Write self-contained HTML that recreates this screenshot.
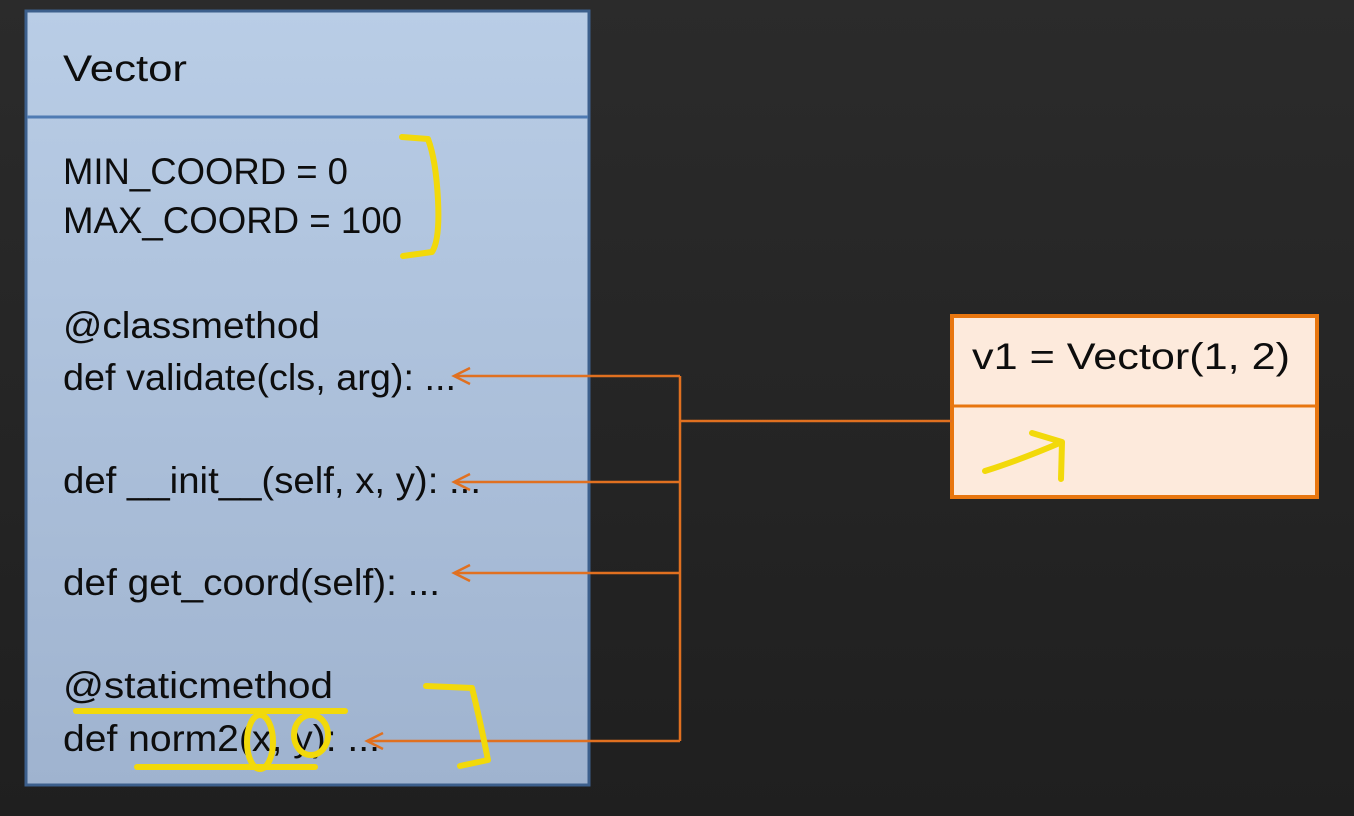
<!DOCTYPE html>
<html><head><meta charset="utf-8"><style>
html,body{margin:0;padding:0;background:#262626;}
svg{display:block}
text{font-family:"Liberation Sans",sans-serif;fill:#0d0d0d;}
</style></head><body>
<svg width="1354" height="816" viewBox="0 0 1354 816" xmlns="http://www.w3.org/2000/svg">
<defs>
<linearGradient id="bg" x1="0" y1="0" x2="0" y2="1">
<stop offset="0" stop-color="#2b2b2b"/><stop offset="1" stop-color="#1f1f1f"/></linearGradient>
<linearGradient id="bl" x1="0" y1="0" x2="0" y2="1">
<stop offset="0" stop-color="#b9cde6"/><stop offset="1" stop-color="#9fb3cf"/></linearGradient>
</defs>
<rect width="1354" height="816" fill="url(#bg)"/>
<rect x="26" y="11" width="563" height="774" fill="url(#bl)" stroke="#3c5f8c" stroke-width="3"/>
<line x1="27" y1="117" x2="588" y2="117" stroke="#4f7bb3" stroke-width="3"/>
<g font-size="37" lengthAdjust="spacingAndGlyphs">
<text x="63" y="81" textLength="124" lengthAdjust="spacingAndGlyphs">Vector</text>
<text x="63" y="184" textLength="285" lengthAdjust="spacingAndGlyphs">MIN_COORD = 0</text>
<text x="63" y="233" textLength="339" lengthAdjust="spacingAndGlyphs">MAX_COORD = 100</text>
<text x="63" y="338" textLength="257" lengthAdjust="spacingAndGlyphs">@classmethod</text>
<text x="63" y="390" textLength="393" lengthAdjust="spacingAndGlyphs">def validate(cls, arg): ...</text>
<text x="63" y="493" textLength="418" lengthAdjust="spacingAndGlyphs">def __init__(self, x, y): ...</text>
<text x="63" y="595" textLength="377" lengthAdjust="spacingAndGlyphs">def get_coord(self): ...</text>
<text x="63" y="698" textLength="270" lengthAdjust="spacingAndGlyphs">@staticmethod</text>
<text x="63" y="751" textLength="317" lengthAdjust="spacingAndGlyphs">def norm2(x, y): ...</text>
</g>
<rect x="952" y="316" width="365" height="181" fill="#fdeadc" stroke="#e8760f" stroke-width="4"/>
<line x1="952" y1="406" x2="1317" y2="406" stroke="#e8760f" stroke-width="3"/>
<text x="972" y="369" font-size="37" textLength="318" lengthAdjust="spacingAndGlyphs">v1 = Vector(1, 2)</text>
<g stroke="#e07020" stroke-width="2.5" fill="none">
<polyline points="680,376 680,741"/>
<line x1="680" y1="421" x2="952" y2="421"/>
<line x1="454" y1="376" x2="680" y2="376"/>
<line x1="454" y1="482" x2="680" y2="482"/>
<line x1="454" y1="573" x2="680" y2="573"/>
<line x1="367" y1="741" x2="680" y2="741"/>
<polyline points="470,368 454,376 470,384"/>
<polyline points="470,474 454,482 470,490"/>
<polyline points="470,565 454,573 470,581"/>
<polyline points="383,733 367,741 383,749"/>
</g>
<g stroke="#f2d90a" stroke-width="6" fill="none" stroke-linecap="round" stroke-linejoin="round">
<path d="M402,137 L428,139 Q436,160 438,200 Q440,240 432,252 L403,256"/>
<path d="M426,686 L472,688 Q480,720 488,760 L460,766"/>
<path d="M76,711 L345,711"/>
<path d="M137,767 L315,767"/>
<ellipse cx="260" cy="742" rx="13" ry="27"/>
<ellipse cx="311" cy="735" rx="17" ry="20"/>
<path d="M985,471 Q1020,460 1062,442 L1032,433 M1062,442 L1061,479"/>
</g>
</svg>
</body></html>
